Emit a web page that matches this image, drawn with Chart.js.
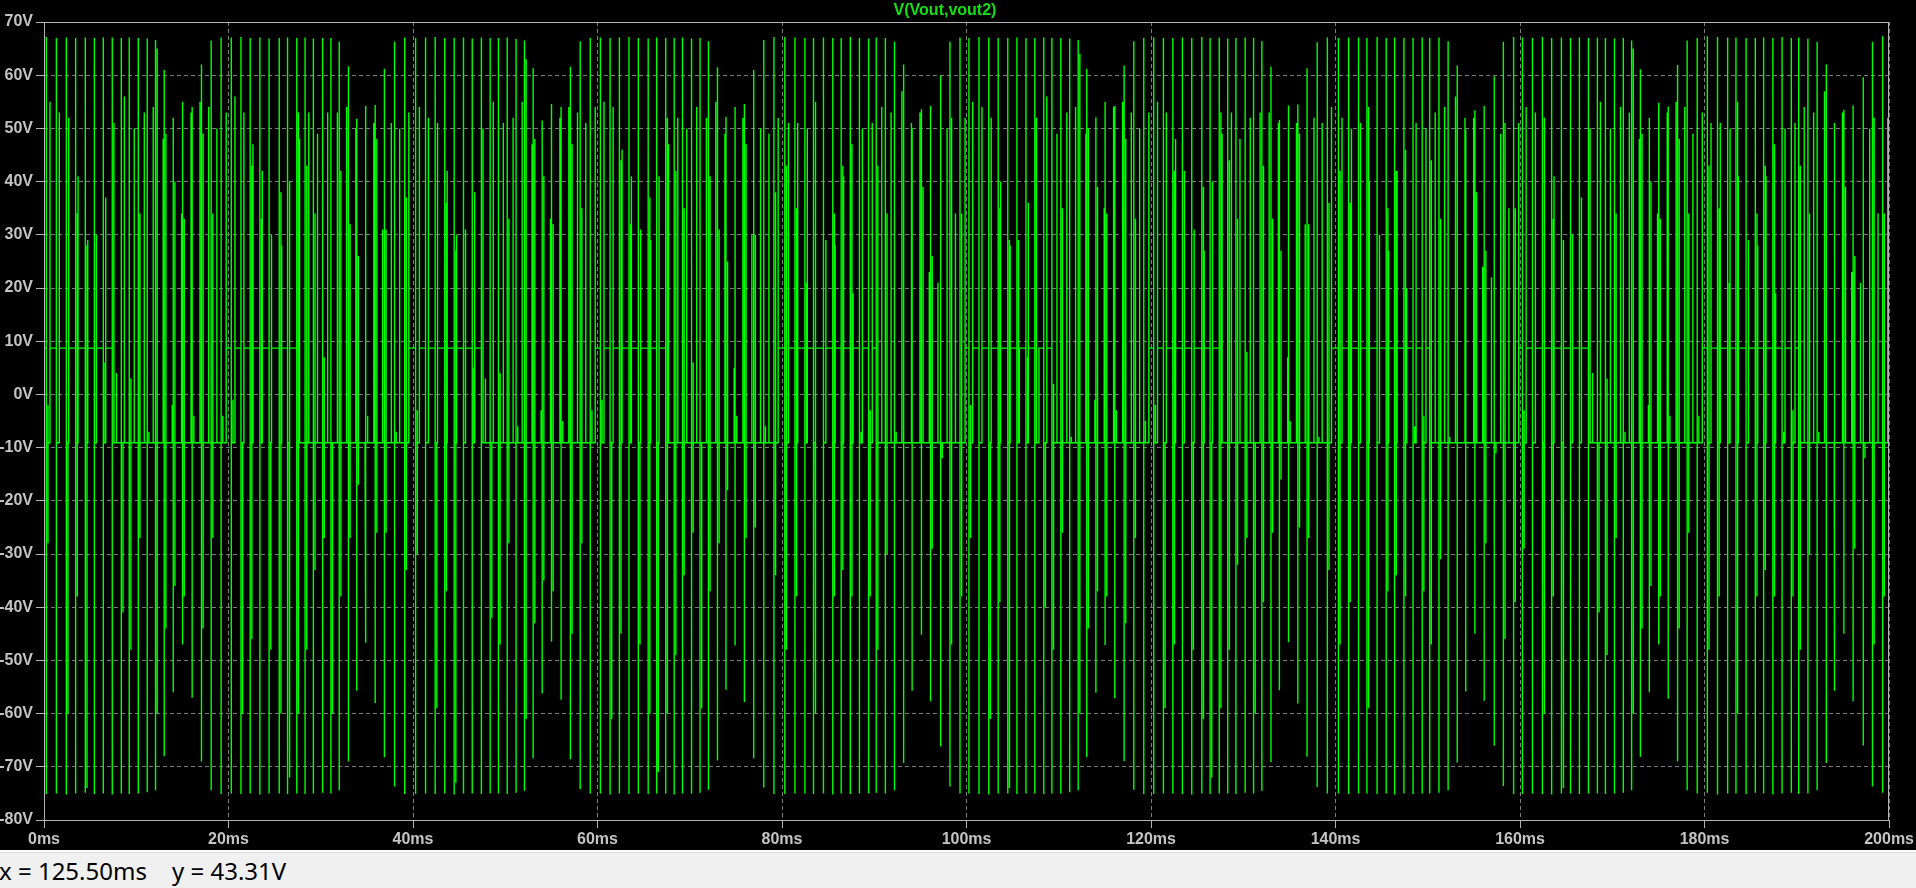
<!DOCTYPE html>
<html>
<head>
<meta charset="utf-8">
<script src="https://cdn.jsdelivr.net/npm/chart.js@4.4.1/dist/chart.umd.min.js"></script>
<style>
  html, body { margin: 0; padding: 0; width: 1916px; height: 888px; overflow: hidden; background: #000; }
  #plot { position: absolute; left: 0; top: 0; width: 1916px; height: 850px; background: #000; }
  #status { position: absolute; left: 0; top: 850px; width: 1916px; height: 38px; background: #f0f0f0; border-top: 2px solid #ffffff; box-sizing: border-box; }
  #status .sep { position: absolute; left: 0; top: 0; width: 1916px; height: 1px; background: #dadada; }
  #status span { position: absolute; top: 7px; font-family: "Noto Sans", "Open Sans", sans-serif; font-size: 24px; line-height: 24px; color: #000; white-space: pre; }
</style>
</head>
<body>
<div id="plot"><canvas id="c" width="1916" height="850"></canvas></div>
<div id="status"><div class="sep"></div><span style="left:-1px">x = 125.50ms</span><span style="left:172px">y = 43.31V</span></div>
<script>
// ---- Data (time in ms, voltage in V) ----
const traceName = "V(Vout,vout2)";
const xTicksMs = [0, 20, 40, 60, 80, 100, 120, 140, 160, 180, 200];
const yTicksV = [-80, -70, -60, -50, -40, -30, -20, -10, 0, 10, 20, 30, 40, 50, 60, 70];
const HIGH_RAIL = 8.7;   // upper plateau level (V)
const LOW_RAIL = -9.1;   // lower plateau level (V)
const START_LEVEL = 8.7;

// main switching pulse of every 1 ms slot
const pulseMs = [
  0.25,1.34,2.42,3.43,4.48,5.46,6.43,7.40,8.38,9.24,10.22,11.19,12.09,13.03,14.01,15.02,16.06,17.07,18.12,19.20,
  20.30,21.35,22.35,23.40,24.40,25.50,26.40,27.40,28.30,29.20,30.20,31.10,32.00,33.00,33.90,34.90,35.90,36.90,38.00,39.10,
  40.28,41.36,42.40,43.44,44.46,45.47,46.42,47.41,48.36,49.26,50.21,51.17,52.08,53.02,54.00,55.01,56.05,57.06,58.12,59.21,
  60.31,61.36,62.37,63.41,64.42,65.49,66.41,67.39,68.31,69.21,70.19,71.11,72.02,73.00,73.92,74.91,75.92,76.93,78.02,79.12,
  80.30,81.40,82.48,83.41,84.49,85.50,86.41,87.40,88.39,89.38,90.21,91.20,92.19,93.18,94.10,95.11,96.10,97.19,98.20,99.29,
  100.26,101.35,102.41,103.43,104.47,105.46,106.44,107.40,108.37,109.25,110.22,111.18,112.10,113.03,114.02,115.02,116.07,117.08,118.13,119.21,
  120.29,121.34,122.36,123.40,124.41,125.50,126.40,127.39,128.31,129.20,130.20,131.11,132.01,133.00,133.91,134.90,135.91,136.91,138.01,139.11,
  140.31,141.41,142.49,143.40,144.50,145.49,146.40,147.41,148.40,149.39,150.20,151.21,152.20,153.19,154.11,155.10,156.11,157.20,158.19,159.30,
  160.26,161.34,162.42,163.42,164.48,165.47,166.43,167.41,168.38,169.25,170.23,171.19,172.09,173.04,174.01,175.03,176.06,177.07,178.11,179.20,
  180.30,181.40,182.50,183.40,184.50,185.50,186.40,187.40,188.40,189.40,190.20,191.20,192.20,193.20,194.10,195.10,196.10,197.20,198.20,199.30
];
const pulseHigh = [
  67.2,67.0,67.1,67.0,67.1,67.0,67.1,67.1,67.0,67.1,67.0,66.9,66.6,61.0,52.0,55.0,54.0,62.0,66.5,67.1,
  67.1,67.2,67.0,67.1,66.9,67.0,67.1,67.0,67.1,66.9,67.0,67.0,66.3,61.7,51.8,54.2,54.4,61.2,66.3,67.1,
  67.0,67.1,67.2,67.0,67.0,67.1,66.9,67.1,67.0,67.0,67.1,66.8,66.5,61.3,51.5,54.6,54.0,61.6,66.4,67.0,
  67.1,67.0,67.1,67.2,67.0,66.9,67.1,67.0,67.0,67.1,66.9,67.0,66.4,61.5,52.2,54.0,54.6,61.0,66.6,67.2,
  67.2,67.1,67.0,67.0,67.1,67.0,67.0,67.2,67.0,66.9,67.1,67.0,66.3,62.0,50.0,53.6,54.2,60.0,66.3,67.1,
  67.0,67.2,67.1,67.0,67.0,67.1,67.0,67.0,67.1,67.0,67.0,66.9,66.6,61.2,52.1,55.0,54.2,61.8,66.4,67.0,
  67.1,67.0,67.0,67.1,67.0,67.2,67.0,67.1,66.9,67.0,67.1,67.0,66.4,61.6,51.6,54.3,54.5,61.3,66.2,67.1,
  67.0,67.1,67.1,67.0,67.2,67.0,67.1,67.0,67.0,67.1,67.0,67.1,66.4,61.8,49.8,53.4,54.2,59.8,66.3,67.2,
  67.1,67.0,67.2,67.0,67.1,67.0,67.1,67.0,67.1,67.0,66.9,67.0,66.5,61.1,52.0,54.8,54.1,61.9,66.5,67.0,
  67.3,67.2,67.1,67.1,67.0,67.0,67.1,67.0,67.2,67.0,67.1,66.9,66.3,62.0,49.6,53.5,54.3,59.6,66.3,67.3
];
const pulseLow = [
  -75.1,-75.0,-75.2,-75.0,-74.9,-75.1,-75.0,-75.2,-75.0,-75.1,-75.0,-74.8,-74.4,-68.0,-56.0,-47.0,-57.0,-69.0,-74.4,-75.1,
  -75.0,-75.1,-75.0,-75.2,-75.0,-75.0,-75.1,-75.0,-75.1,-75.0,-74.9,-75.0,-74.4,-69.0,-55.7,-46.7,-58.0,-68.2,-73.7,-75.1,
  -75.1,-75.0,-75.1,-75.0,-75.2,-75.0,-75.0,-75.1,-75.0,-75.0,-75.1,-74.9,-74.5,-68.4,-56.2,-46.5,-57.4,-68.6,-74.2,-75.0,
  -75.0,-75.2,-75.0,-75.1,-75.0,-75.1,-75.0,-75.0,-75.2,-75.0,-75.0,-74.9,-74.3,-68.8,-55.5,-47.2,-57.8,-68.4,-73.9,-75.1,
  -75.1,-75.0,-75.0,-75.1,-75.0,-75.2,-75.0,-75.1,-75.0,-75.0,-74.9,-75.0,-74.4,-69.3,-55.7,-45.2,-57.7,-66.2,-73.7,-75.0,
  -75.0,-75.1,-75.2,-75.0,-75.0,-75.1,-75.0,-75.0,-75.1,-75.0,-75.0,-74.8,-74.4,-68.2,-56.1,-47.1,-57.1,-68.9,-74.3,-75.1,
  -75.1,-75.0,-75.0,-75.1,-75.2,-75.0,-75.1,-75.0,-75.0,-75.1,-74.9,-75.0,-74.5,-69.1,-55.6,-46.6,-58.1,-68.1,-73.8,-75.0,
  -75.0,-75.1,-75.0,-75.0,-75.1,-75.0,-75.2,-75.0,-75.1,-75.0,-75.0,-74.9,-74.4,-69.2,-55.8,-45.0,-57.6,-66.0,-73.6,-75.1,
  -75.1,-75.0,-75.1,-75.2,-75.0,-75.0,-75.1,-75.0,-75.0,-75.1,-75.0,-74.9,-74.4,-68.1,-56.0,-47.0,-57.2,-69.0,-74.4,-75.0,
  -74.9,-75.2,-75.0,-75.0,-75.1,-74.9,-75.0,-75.2,-75.0,-74.9,-75.1,-75.0,-74.4,-69.3,-55.7,-45.0,-57.7,-66.0,-73.7,-74.9
];
// companion excursion right after the main pulse (-9.1 = none)
const echoHigh = [
  -2,-9.1,-9.1,34,28,30,6,51,-9.1,3,34,-7,65,49,40,33,-4,49,34,-4,
  -1,-33,43,33,-33,38,-30,53,43,34,7,-33,42,32,26,-4,48,31,-7,37,
  -3,-9.1,-9.1,36,27,31,5,50,-9.1,4,33,-6,63,48,41,32,-5,47,35,-3,
  -1,-33,44,32,-33,37,-31,52,42,35,6,-33,41,31,25,-4,47,30,-6,38,
  43,35,21,55,-9.1,34,43,47,-7,-3,43,34,-7,-9.1,-9.1,39,26,-12,52,34,
  -2,-9.1,-9.1,35,29,29,7,52,-9.1,2,35,-8,64,50,39,34,-3,48,33,-5,
  -2,-33,42,34,-33,39,-29,53,44,33,8,-33,43,33,27,-5,49,32,-8,36,
  42,36,22,54,-9.1,35,42,46,-6,-4,44,33,-8,-9.1,-9.1,38,27,-11,51,35,
  -3,-9.1,-9.1,33,28,30,6,50,-9.1,3,34,-7,65,49,40,33,-4,48,34,-4,
  43,35,21,55,-9.1,34,43,47,-7,-3,43,34,-7,-9.1,-9.1,39,26,-12,52,34
];
const echoLow = [
  -28,-9.1,-60,-38,-74,-9.1,-9.1,21,-41,-48,-27,-9.1,-60,-44,-36,-38,-9.1,-44,-27,-9.1,
  -9.1,-60,-46,7,-48,-60,-72,-60,-48,-33,-27,-60,-38,-27,-17,-9.1,-26,-26,-9.1,-33,
  -30,-9.1,-59,-37,-73,-9.1,-9.1,20,-42,-47,-28,-9.1,-61,-43,-35,-37,-9.1,-45,-28,-9.1,
  -9.1,-61,-45,6,-47,-60,-71,-60,-49,-34,-26,-59,-37,-28,-18,-9.1,-27,-25,-9.1,-34,
  -48,-38,-9.1,-60,-9.1,-38,-33,-38,-9.1,-38,-48,-30,-9.1,-9.1,-9.1,-9.1,-29,-9.1,-47,-38,
  -27,-9.1,-61,-39,-74,-9.1,-9.1,22,-40,-48,-26,-9.1,-60,-44,-37,-38,-9.1,-43,-27,-9.1,
  -9.1,-59,-47,8,-48,-61,-72,-59,-48,-32,-27,-60,-39,-26,-16,-9.1,-25,-27,-9.1,-33,
  -47,-39,-9.1,-59,-9.1,-37,-34,-38,-9.1,-37,-47,-31,-9.1,-9.1,-9.1,-9.1,-28,-9.1,-46,-39,
  -29,-9.1,-60,-38,-74,-9.1,-9.1,21,-41,-49,-27,-9.1,-60,-44,-36,-38,-9.1,-44,-26,-9.1,
  -48,-38,-9.1,-60,-9.1,-38,-33,-38,-9.1,-38,-48,-30,-9.1,-9.1,-9.1,-9.1,-29,-9.1,-47,-38
];
// secondary pulse: delay after the main pulse (ms) and its peak (V)
const subDelayMs = [
  .40,.32,.26,.26,.26,.26,.26,.45,.33,.54,.65,.65,.83,.87,.90,.92,.85,.78,.62,.55,
  .40,.32,.30,.26,.26,.26,.26,.30,.40,.45,.55,.70,.80,.80,.90,.85,.80,.75,.55,.45,
  .41,.31,.26,.26,.26,.26,.26,.44,.34,.53,.64,.66,.82,.86,.90,.91,.84,.77,.61,.54,
  .39,.33,.29,.26,.26,.26,.26,.31,.39,.46,.56,.69,.80,.81,.89,.85,.81,.74,.56,.46,
  .40,.30,.26,.26,.26,.26,.26,.30,.32,.40,.60,.62,.80,.85,.85,.85,.80,.70,.60,.55,
  .40,.32,.26,.26,.26,.26,.26,.45,.33,.55,.65,.64,.83,.88,.90,.92,.85,.78,.63,.55,
  .41,.32,.30,.26,.26,.26,.26,.31,.40,.44,.55,.71,.79,.80,.90,.86,.80,.75,.54,.45,
  .39,.31,.26,.26,.26,.26,.26,.30,.33,.41,.60,.61,.80,.84,.86,.85,.79,.70,.60,.55,
  .40,.32,.26,.26,.26,.26,.26,.45,.33,.54,.66,.65,.83,.87,.89,.92,.85,.78,.62,.55,
  .40,.30,.26,.26,.26,.26,.26,.30,.32,.40,.60,.62,.80,.85,.85,.85,.80,.70,.60,.55
];
const subV = [
  55,53,52,41,29,6,37,4,56,50,53,54,48,-2,34,53,55,54,50,53,
  56,53,47,42,30,28,40,48,53,49,53,53,54,50,6,51,31,51,50,53,
  54,52,51,42,30,5,38,3,55,51,52,55,47,-3,33,52,54,53,51,54,
  55,54,46,41,31,29,41,47,52,50,54,52,55,49,5,52,30,50,49,52,
  51,51,50,41,29,28,41,19,50,51,54,53,57,51,53,23,21,50,34,52,
  55,54,52,40,28,7,36,5,56,49,53,54,49,-1,35,54,55,53,50,53,
  55,53,48,42,31,27,40,49,53,48,52,53,53,51,7,51,32,52,51,54,
  52,50,51,40,30,27,42,20,51,50,53,54,56,52,52,24,22,49,35,51,
  54,53,52,41,29,6,37,4,55,50,54,53,48,-2,34,53,55,54,49,53,
  51,51,50,41,29,28,41,19,50,51,54,53,57,51,53,23,21,50,34,52
];
// level held after the secondary pulse until the next slot
const H = HIGH_RAIL, L = LOW_RAIL;
const restV = [
  H,H,H,H,H,H,H,L,L,L,L,L,L,L,L,L,L,L,L,H,
  H,H,H,H,H,H,H,L,L,L,L,L,L,L,L,L,L,L,L,H,
  H,H,H,H,H,H,H,L,L,L,L,L,L,L,L,L,L,L,L,H,
  H,H,H,H,H,H,H,L,L,L,L,L,L,L,L,L,L,L,L,H,
  H,H,H,H,H,H,H,H,H,H,L,L,L,L,L,L,L,L,L,H,
  H,H,H,H,H,H,H,H,H,L,L,L,L,L,L,L,L,L,L,H,
  H,H,H,H,H,H,H,L,L,L,L,L,L,L,L,L,L,L,L,H,
  H,H,H,H,H,H,H,H,H,H,L,L,L,L,L,L,L,L,L,H,
  H,H,H,H,H,H,H,L,L,L,L,L,L,L,L,L,L,L,L,H,
  H,H,H,H,H,H,H,H,H,H,L,L,L,L,L,L,L,L,L,H
];
const ECHO_GAP_MS = 0.18;
const END_MS = 200;

// ---- build the stepped trace from the arrays ----
const trace = [{x: 0, y: START_LEVEL}];
let level = START_LEVEL;
for (let i = 0; i < pulseMs.length; i++) {
  const t = pulseMs[i];
  trace.push({x: t, y: level}, {x: t, y: pulseHigh[i]}, {x: t, y: pulseLow[i]}, {x: t, y: LOW_RAIL});
  if (echoHigh[i] !== LOW_RAIL || echoLow[i] !== LOW_RAIL) {
    const te = t + ECHO_GAP_MS;
    trace.push({x: te, y: LOW_RAIL}, {x: te, y: echoHigh[i]}, {x: te, y: echoLow[i]}, {x: te, y: LOW_RAIL});
  }
  const ts = t + subDelayMs[i];
  trace.push({x: ts, y: LOW_RAIL}, {x: ts, y: subV[i]}, {x: ts, y: restV[i]});
  level = restV[i];
}
trace.push({x: END_MS, y: level});

const tickFont = {family: "'Liberation Sans', Arial, sans-serif", size: 16, weight: 'bold'};
const frame = {
  id: 'frame',
  afterDatasetsDraw(chart) {
    const a = chart.chartArea, ctx = chart.ctx;
    ctx.save();
    ctx.strokeStyle = '#b4b4b4';
    ctx.lineWidth = 1;
    ctx.strokeRect(Math.round(a.left) + 0.5, Math.round(a.top) + 0.5, Math.round(a.right - a.left) - 1, Math.round(a.bottom - a.top));
    ctx.restore();
  }
};

new Chart(document.getElementById('c'), {
  type: 'line',
  data: {
    datasets: [{
      label: traceName,
      data: trace,
      borderColor: '#00ff00',
      borderWidth: 1.4,
      pointRadius: 0,
      tension: 0,
      fill: false
    }]
  },
  options: {
    responsive: false,
    animation: false,
    devicePixelRatio: 1,
    layout: {padding: {left: 0, right: 26, top: 0, bottom: 0}},
    plugins: {
      legend: {display: false},
      tooltip: {enabled: false},
      title: {
        display: true,
        text: traceName,
        color: '#12e012',
        font: {family: "'Liberation Sans', Arial, sans-serif", size: 16, weight: 'bold', lineHeight: 1},
        padding: {top: 3, bottom: 3}
      }
    },
    scales: {
      x: {
        type: 'linear',
        min: xTicksMs[0],
        max: xTicksMs[xTicksMs.length - 1],
        afterBuildTicks(scale) { scale.ticks = xTicksMs.map(v => ({value: v})); },
        afterFit(scale) { scale.height = 30; },
        ticks: {
          callback: v => v + 'ms',
          color: '#c4c4c4',
          font: tickFont,
          maxRotation: 0,
          autoSkip: false,
          padding: 2
        },
        grid: {color: '#7c7c7c', lineWidth: 1, tickColor: '#b4b4b4', tickLength: 8},
        border: {display: false, dash: [4, 3]}
      },
      y: {
        type: 'linear',
        min: yTicksV[0],
        max: yTicksV[yTicksV.length - 1],
        afterBuildTicks(scale) { scale.ticks = yTicksV.map(v => ({value: v})); },
        afterFit(scale) { scale.width = 44; },
        ticks: {
          callback: v => v + 'V',
          color: '#c4c4c4',
          font: tickFont,
          autoSkip: false,
          padding: 3
        },
        grid: {color: '#7c7c7c', lineWidth: 1, tickColor: '#b4b4b4', tickLength: 8},
        border: {display: false, dash: [4, 3]}
      }
    }
  },
  plugins: [frame]
});
</script>
</body>
</html>
